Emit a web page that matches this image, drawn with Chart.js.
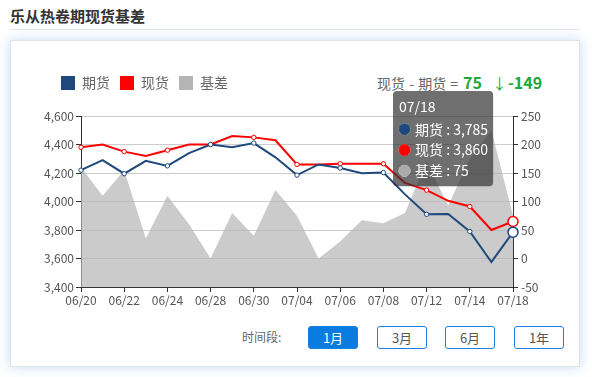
<!DOCTYPE html>
<html>
<head>
<meta charset="utf-8">
<script src="https://cdn.jsdelivr.net/npm/chart.js@4"></script>
<style>
  body { margin: 0; width: 592px; height: 377px; background: #fff; position: relative; overflow: hidden;
         font-family: "Noto Sans CJK SC", "Noto Sans", sans-serif; }
  .title { position: absolute; left: 10px; top: 5px; font-size: 15px; font-weight: bold; color: #333; }
  .rule { position: absolute; left: 10px; top: 29px; width: 570px; height: 1px; background: #e6e6e6; }
  .card { position: absolute; left: 10px; top: 40px; width: 568px; height: 325px; border: 1px solid #e2e2e2;
          box-shadow: 0 0 12px rgba(40,130,230,0.28); background: #fff; }
  .diff { position: absolute; left: 377px; top: 70px; font-size: 14px; color: #666; white-space: nowrap; word-spacing: 1px; }
  .diff b { display: inline-block; color: #1aaa3a; font-size: 16px; margin-left: 5px; }
  .diff .arrow { color: #1aaa3a; margin-left: 10px; font-size: 15px; }
  .diff .down { color: #1aaa3a; margin-left: 1px; font-weight: bold; font-size: 16px; }
  .period { position: absolute; left: 242px; top: 328px; font-size: 12px; color: #666; }
  .btn { position: absolute; top: 326px; width: 48px; height: 21px; border: 1px solid #1a7fe0; border-radius: 3px;
         font-size: 13px; line-height: 21px; text-align: center; color: #555; background: #fff; }
  .btn.on { background: #0a7be0; color: #fff; }
  canvas { position: absolute; left: 0; top: 0; }
</style>
</head>
<body>
<div class="title">乐从热卷期现货基差</div>
<div class="rule"></div>
<div class="card"></div>
<div class="diff">现货 - 期货 =<b>75</b><span class="arrow">↓</span><span class="down">-149</span></div>
<div class="period">时间段:</div>
<div class="btn on" style="left:308px">1月</div>
<div class="btn" style="left:377px">3月</div>
<div class="btn" style="left:445px">6月</div>
<div class="btn" style="left:514px">1年</div>
<canvas id="basisChart" width="592" height="377"></canvas>
<script>
// --- data ---
const dates = ["06/20", "06/21", "06/22", "06/23", "06/24", "06/27", "06/28", "06/29", "06/30", "07/01",
  "07/04", "07/05", "07/06", "07/07", "07/08", "07/11", "07/12", "07/13", "07/14", "07/15", "07/18"];
const futures = [4220, 4290, 4195, 4285, 4250, 4340, 4400, 4380, 4410, 4310,
  4185, 4260, 4235, 4198, 4203, 4050, 3910, 3912, 3790, 3575, 3785];
const spot = [4380, 4400, 4350, 4320, 4360, 4400, 4400, 4460, 4450, 4430,
  4260, 4260, 4265, 4265, 4265, 4130, 4080, 4005, 3965, 3800, 3860];
const basis = [160, 110, 155, 35, 110, 60, 0, 80, 40, 120,
  75, 0, 30, 67, 62, 80, 170, 93, 175, 225, 75];
const priceTicks = { min: 3400, max: 4600, step: 200 };
const basisTicks = { min: -50, max: 250, step: 50 };

const BLUE = "#1f497d";
const RED = "#ff0000";
const GRAY = "#b5b5b5";
const FONT = '"Noto Sans CJK SC", "Noto Sans", sans-serif';

// symbols only on every other point (like the source chart)
const symbolRadius = (ctx) => (ctx.dataIndex % 2 === 0 ? 2.2 : 0);

// put the tooltip box at a fixed spot
Chart.Tooltip.positioners.fixedBox = function () {
  return { x: 397, y: 91 };
};

// extra gap under the legend, and nudge it right
const legendTweak = {
  id: "legendTweak",
  beforeInit(chart) {
    const fit = chart.legend.fit;
    chart.legend.fit = function () {
      fit.bind(chart.legend)();
      this.height += 16;
    };
  },
  afterLayout(chart) {
    chart.legend.left += 11;
    chart.legend.right += 11;
  },
};

const ctx = document.getElementById("basisChart").getContext("2d");
const chart = new Chart(ctx, {
  type: "line",
  data: {
    labels: dates,
    datasets: [
      {
        label: "期货",
        data: futures,
        yAxisID: "y",
        borderColor: BLUE,
        backgroundColor: BLUE,
        borderWidth: 2,
        tension: 0,
        pointRadius: symbolRadius,
        pointBackgroundColor: "#fff",
        pointBorderColor: BLUE,
        pointBorderWidth: 1,
        pointHoverRadius: 5,
        pointHoverBackgroundColor: "#fff",
        pointHoverBorderColor: BLUE,
        pointHoverBorderWidth: 1.5,
      },
      {
        label: "现货",
        data: spot,
        yAxisID: "y",
        borderColor: RED,
        backgroundColor: RED,
        borderWidth: 2,
        tension: 0,
        pointRadius: symbolRadius,
        pointBackgroundColor: "#fff",
        pointBorderColor: RED,
        pointBorderWidth: 1,
        pointHoverRadius: 5,
        pointHoverBackgroundColor: "#fff",
        pointHoverBorderColor: RED,
        pointHoverBorderWidth: 1.5,
      },
      {
        label: "基差",
        data: basis,
        yAxisID: "y1",
        borderWidth: 0,
        borderColor: "rgba(0,0,0,0)",
        backgroundColor: "rgba(181,181,181,0.7)",
        fill: "start",
        tension: 0,
        pointRadius: 0,
        pointHoverRadius: 0,
      },
    ],
  },
  options: {
    responsive: false,
    animation: false,
    events: [],
    layout: { padding: { left: 40, right: 44, top: 66, bottom: 70 } },
    plugins: {
      legend: {
        position: "top",
        align: "start",
        labels: {
          boxWidth: 14,
          boxHeight: 14,
          padding: 10,
          color: "#666",
          font: { family: FONT, size: 14 },
          generateLabels: (c) =>
            c.data.datasets.map((ds, i) => ({
              text: ds.label,
              fillStyle: [BLUE, RED, GRAY][i],
              strokeStyle: [BLUE, RED, GRAY][i],
              lineWidth: 0,
              fontColor: "#666",
              datasetIndex: i,
            })),
        },
      },
      tooltip: {
        enabled: true,
        position: "fixedBox",
        xAlign: "left",
        yAlign: "top",
        caretSize: 0,
        caretPadding: 0,
        cornerRadius: 4,
        padding: { top: 7, bottom: 7, left: 6, right: 5 },
        backgroundColor: "rgba(50,50,50,0.7)",
        titleColor: "#fff",
        bodyColor: "#fff",
        titleFont: { family: FONT, size: 14, weight: "normal" },
        bodyFont: { family: FONT, size: 14 },
        titleMarginBottom: 6,
        bodySpacing: 4,
        boxWidth: 11,
        boxHeight: 11,
        boxPadding: 3,
        usePointStyle: true,
        callbacks: {
          label: (c) => c.dataset.label + " : " + c.parsed.y.toLocaleString("en-US"),
          labelColor: (c) => {
            const col = [BLUE, RED, "#aaa"][c.datasetIndex];
            return { borderColor: col, backgroundColor: col };
          },
          labelPointStyle: () => ({ pointStyle: "circle", rotation: 0 }),
        },
      },
    },
    scales: {
      x: {
        offset: false,
        afterFit: (s) => { s.height = 20; },
        ticks: {
          autoSkip: false,
          maxRotation: 0,
          padding: 1,
          color: "#555",
          font: { family: FONT, size: 12 },
          callback: (v, i) => (i % 2 === 0 ? dates[i] : ""),
        },
        grid: {
          drawOnChartArea: false,
          tickLength: 5,
          tickColor: (c) => (c.index % 2 === 0 ? "#333" : "rgba(0,0,0,0)"),
        },
        border: { color: "#333" },
      },
      y: {
        position: "left",
        min: priceTicks.min,
        max: priceTicks.max,
        afterFit: (s) => { s.width = 41; },
        ticks: {
          stepSize: priceTicks.step,
          padding: 2,
          color: "#555",
          font: { family: FONT, size: 12 },
          callback: (v) => v.toLocaleString("en-US"),
        },
        grid: { color: "#cccccc", tickLength: 5, tickColor: "#333" },
        border: { color: "#333" },
      },
      y1: {
        position: "right",
        min: basisTicks.min,
        max: basisTicks.max,
        afterFit: (s) => { s.width = 35; },
        ticks: {
          stepSize: basisTicks.step,
          padding: 3,
          color: "#555",
          font: { family: FONT, size: 12 },
        },
        grid: { drawOnChartArea: false, tickLength: 5, tickColor: "#333" },
        border: { color: "#333" },
      },
    },
  },
  plugins: [legendTweak],
});

// show the hover state on the last day, like the screenshot
const last = dates.length - 1;
const active = [0, 1, 2].map((d) => ({ datasetIndex: d, index: last }));
chart.setActiveElements(active);
chart.tooltip.setActiveElements(active, { x: 513, y: 200 });
chart.update();
</script>
</body>
</html>
